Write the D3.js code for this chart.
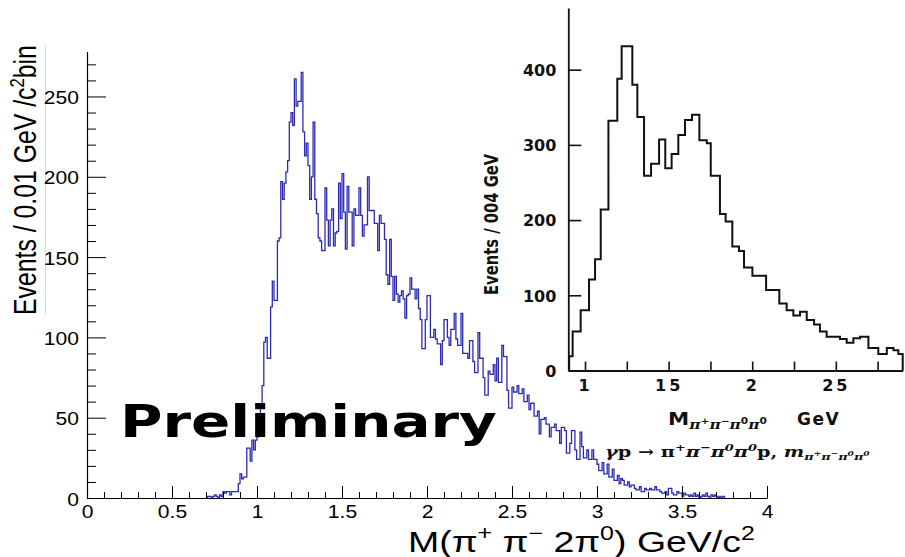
<!DOCTYPE html>
<html>
<head>
<meta charset="utf-8">
<script src="https://cdn.jsdelivr.net/npm/d3@7"></script>
<style>
  body { margin: 0; background: #fff; }
  svg { display: block; background: #fff; }
</style>
</head>
<body>
<svg id="chart" width="905" height="557"></svg>
<script>
// ---- main spectrum: M(pi+ pi- 2pi0), 0.01 GeV bins starting at 0.70 GeV ----
const mainStart = 0.70;
const mainBinWidth = 0.01;
const mainCounts = [
  0, 1, 1, 0, 1, 2, 1, 0, 2, 1,            // 0.70
  4, 3, 4, 4, 2, 4, 4, 4, 4, 9,            // 0.80
  15, 12, 13, 13, 31, 31, 23, 36, 30, 36,  // 0.90
  38, 47, 57, 70, 97, 100, 87, 87, 119, 135,        // 1.00
  123, 123, 160, 162, 197, 186, 196, 203, 210, 234, // 1.10
  240, 232, 261, 244, 247, 247, 265, 228, 213, 221, // 1.20
  207, 186, 200, 234, 186, 177, 162, 160, 154, 154, // 1.30
  193, 173, 157, 173, 180, 157, 165, 166, 196, 174, // 1.40
  202, 178, 155, 194, 178, 178, 157, 180, 176, 176, // 1.50
  193, 176, 163, 170, 170, 200, 179, 179, 179, 171, // 1.60
  171, 154, 176, 171, 171, 161, 139, 133, 161, 138, // 1.70
  123, 138, 127, 122, 126, 129, 124, 112, 126, 127, // 1.80
  137, 130, 130, 124, 130, 118, 111, 93, 93, 111,   // 1.90
  126, 126, 100, 100, 105, 99, 96, 96, 83, 98,      // 2.00
  111, 111, 100, 95, 105, 105, 115, 99, 95, 95,     // 2.10
  115, 90, 90, 90, 87, 98, 98, 85, 78, 78,          // 2.20
  103, 87, 87, 75, 64, 64, 79, 77, 77, 83,          // 2.30
  73, 87, 72, 72, 95, 88, 88, 67, 56, 56,           // 2.40
  69, 66, 66, 70, 65, 65, 68, 60, 60, 64,           // 2.50
  55, 59, 59, 51, 51, 54, 40, 49, 49, 50,           // 2.60
  46, 46, 38, 44, 44, 46, 42, 42, 34, 44,           // 2.70
  44, 42, 28, 28, 34, 42, 42, 30, 24, 24,           // 2.80
  41, 32, 25, 25, 30, 24, 24, 30, 24, 24,           // 2.90
  21, 17, 17, 22, 15, 15, 21, 13, 13, 18,           // 3.00
  11, 11, 14, 9, 12, 11, 8, 8, 10, 7,               // 3.10
  8, 8, 6, 5, 5, 7, 4, 4, 6, 5,                     // 3.20
  5, 6, 5, 5, 7, 5, 5, 4, 3, 3,                     // 3.30
  4, 2, 6, 6, 3, 2, 2, 4, 3, 3,                     // 3.40
  1, 3, 2, 2, 1, 2, 1, 3, 1, 2,                     // 3.50
  0, 1, 2, 1, 3, 1, 0, 2, 1, 2,                     // 3.60
  1, 0, 1, 0, 1                                     // 3.70
];
const mainXTicks = [0, 0.5, 1, 1.5, 2, 2.5, 3, 3.5, 4];
const mainXTickLabels = ["0", "0.5", "1", "1.5", "2", "2.5", "3", "3.5", "4"];
const mainYTicks = [0, 50, 100, 150, 200, 250];

// ---- older measurement, gamma p -> pi+ pi- pi0 pi0 p (hand-binned edges) ----
const insetEdges = [
  0.905, 0.926, 0.974, 1.024, 1.06, 1.094, 1.14, 1.193, 1.219, 1.283,
  1.313, 1.353, 1.395, 1.443, 1.48, 1.518, 1.558, 1.598, 1.64, 1.684,
  1.728, 1.752, 1.807, 1.841, 1.881, 1.921, 1.951, 2.001, 2.083, 2.162,
  2.206, 2.246, 2.286, 2.326, 2.37, 2.405, 2.445, 2.525, 2.565, 2.605,
  2.645, 2.695, 2.754, 2.805, 2.845, 2.874, 2.90
];
const insetCounts = [
  19, 52, 80, 121, 148, 214, 332, 388, 431, 380,
  337, 259, 275, 307, 269, 288, 313, 333, 340, 306,
  302, 259, 208, 198, 165, 159, 137, 126, 107, 89,
  80, 73, 78, 67, 61, 52, 45, 42, 37, 43,
  45, 30, 22, 30, 27, 22
];
const insetXTicks = [1, 1.5, 2, 2.5];
const insetXTickLabels = ["1", "15", "2", "25"];
const insetXMinorTicks = [1.25, 1.75, 2.25, 2.75];
const insetYTicks = [0, 100, 200, 300, 400];

const svg = d3.select("#chart");

// stretch/squeeze a text element horizontally (in its own frame) to a given length
function fitLength(sel, length) {
  sel.each(function () {
    const w = this.getBBox().width;
    if (w > 0) {
      const base = this.getAttribute("data-base") || "";
      this.setAttribute("transform", base + ` scale(${length / w},1)`);
    }
  });
}

// append runs of [text, shift, attrs]; shift raises (negative) or lowers (positive) the run
function appendRuns(textSel, runs, smallSize) {
  let current = 0;
  runs.forEach(([str, shift, attrs]) => {
    const t = textSel.append("tspan").attr("dy", shift - current).text(str);
    if (shift !== 0) t.attr("font-size", smallSize);
    if (attrs) Object.entries(attrs).forEach(([k, v]) => t.attr(k, v));
    current = shift;
  });
}

// ================= main histogram =================
const x = d3.scaleLinear().domain([0, 4]).range([87, 767]);
const y = d3.scaleLinear().domain([0, 278]).range([498, 51.5]);

const mainPts = [];
mainCounts.forEach((v, i) => {
  const x0 = mainStart + i * mainBinWidth;
  const x1 = mainStart + (i + 1) * mainBinWidth;
  if (i === 0) mainPts.push([x0, 0]);
  mainPts.push([x0, v], [x1, v]);
  if (i === mainCounts.length - 1) mainPts.push([x1, 0]);
});
const mainLine = d3.line().x(d => x(d[0])).y(d => y(d[1]));

// faint frame edge left of the title
svg.append("line")
  .attr("x1", 45.5).attr("x2", 45.5).attr("y1", 45).attr("y2", 315)
  .attr("stroke", "#d8d8d8").attr("stroke-width", 1);

svg.append("path")
  .attr("d", mainLine(mainPts))
  .attr("fill", "none")
  .attr("stroke", "#2b2bb2")
  .attr("stroke-width", 1.3);

// x axis (ticks point inwards)
const xAxisG = svg.append("g").attr("transform", "translate(0,498)");
xAxisG.append("g")
  .call(d3.axisBottom(x).tickValues(d3.range(0, 41).map(i => i / 10).filter(v => !mainXTicks.includes(v)))
    .tickSizeInner(-6).tickSizeOuter(0).tickFormat(""))
  .call(g => g.select(".domain").remove());
xAxisG.append("g")
  .call(d3.axisBottom(x).tickValues(mainXTicks).tickFormat((d, i) => mainXTickLabels[i])
    .tickSizeInner(-12).tickSizeOuter(0).tickPadding(7));

// y axis
const yAxisG = svg.append("g").attr("transform", "translate(87,0)");
yAxisG.append("g")
  .call(d3.axisLeft(y).tickValues(d3.range(0, 280, 10).filter(v => !mainYTicks.includes(v)))
    .tickSizeInner(-9).tickSizeOuter(0).tickFormat(""))
  .call(g => g.select(".domain").remove());
yAxisG.append("g")
  .call(d3.axisLeft(y).tickValues(mainYTicks).tickSizeInner(-19).tickSizeOuter(0).tickPadding(8));

svg.selectAll(".tick line").attr("stroke", "#000");
[xAxisG, yAxisG].forEach(g => {
  g.selectAll(".domain").attr("stroke", "#000").attr("stroke-width", 1.2);
  g.selectAll("text")
    .attr("font-family", "Liberation Sans, Arial, sans-serif")
    .attr("font-size", 18)
    .attr("fill", "#000")
    .each(function () {
      const w = this.getComputedTextLength();
      d3.select(this).attr("textLength", w * 1.17).attr("lengthAdjust", "spacingAndGlyphs");
    });
});
yAxisG.selectAll("text").attr("dy", "0.4em");

// axis titles
const yTitle = svg.append("text")
  .attr("data-base", "translate(36,315) rotate(-90)")
  .attr("font-family", "Liberation Sans, Arial, sans-serif")
  .attr("font-size", 31)
  .attr("fill", "#000");
appendRuns(yTitle, [["Events / 0.01 GeV /c", 0], ["2", -12], ["bin", 0]], 21);
fitLength(yTitle, 270);

const xTitle = svg.append("text")
  .attr("data-base", "translate(408,552)")
  .attr("font-family", "Liberation Sans, Arial, sans-serif")
  .attr("font-size", 30)
  .attr("fill", "#000");
appendRuns(xTitle, [
  ["M(π", 0], ["+", -12], [" π", 0], ["−", -12], [" 2π", 0], ["0", -12], [") GeV/c", 0], ["2", -12]
], 20);
fitLength(xTitle, 347);

// stamp
const stamp = svg.append("text")
  .attr("data-base", "translate(120,437)")
  .attr("font-family", "DejaVu Sans, sans-serif")
  .attr("font-weight", "bold")
  .attr("font-size", 45)
  .attr("fill", "#000")
  .text("Preliminary");
fitLength(stamp, 377);

// ================= inset: earlier measurement =================
const xi = d3.scaleLinear().domain([0.9, 2.9]).range([568.3, 902.7]);
const yi = d3.scaleLinear().domain([0, 482]).range([370.5, 8]);

const insetPts = [[insetEdges[0], 0]];
insetCounts.forEach((v, i) => {
  insetPts.push([insetEdges[i], v], [insetEdges[i + 1], v]);
});
insetPts.push([insetEdges[insetEdges.length - 1], 0]);
const insetLine = d3.line().x(d => xi(d[0])).y(d => yi(d[1]));

svg.append("path")
  .attr("d", insetLine(insetPts))
  .attr("fill", "none")
  .attr("stroke", "#111")
  .attr("stroke-width", 2)
  .attr("stroke-linejoin", "miter");

const ixG = svg.append("g").attr("transform", "translate(0,370.5)");
ixG.append("g")
  .call(d3.axisBottom(xi).tickValues(insetXMinorTicks).tickSizeInner(-9).tickSizeOuter(0).tickFormat(""))
  .call(g => g.select(".domain").remove());
ixG.append("g")
  .call(d3.axisBottom(xi).tickValues(insetXTicks).tickFormat((d, i) => insetXTickLabels[i])
    .tickSizeInner(-9).tickSizeOuter(0).tickPadding(8));

const iyG = svg.append("g").attr("transform", "translate(568.3,0)");
iyG.call(d3.axisLeft(yi).tickValues(insetYTicks).tickSizeInner(-13).tickSizeOuter(0).tickPadding(12));

[ixG, iyG].forEach(g => {
  g.selectAll(".domain").attr("stroke", "#111").attr("stroke-width", 1.8);
  g.selectAll(".tick line").attr("stroke", "#111").attr("stroke-width", 1.6);
  g.selectAll("text")
    .attr("font-family", "DejaVu Sans, sans-serif")
    .attr("font-weight", "bold")
    .attr("font-size", 16)
    .attr("fill", "#111");
});
ixG.selectAll("text").attr("letter-spacing", 3).attr("dy", "0.75em");
iyG.selectAll("text").attr("dy", "0.36em");

const iyTitle = svg.append("text")
  .attr("data-base", "translate(498,295) rotate(-90)")
  .attr("font-family", "DejaVu Sans Condensed, DejaVu Sans, sans-serif")
  .attr("font-weight", "bold")
  .attr("font-size", 19)
  .attr("fill", "#111")
  .text("Events / 004 GeV");
fitLength(iyTitle, 142);

// inset mass label: M with a subscripted final state, then the unit
const ixTitle = svg.append("text")
  .attr("data-base", "translate(668,425)")
  .attr("font-family", "DejaVu Sans, sans-serif")
  .attr("font-weight", "bold")
  .attr("font-size", 18)
  .attr("fill", "#111");
const piSub = { "font-family": "DejaVu Serif, serif", "font-style": "italic", "font-size": 13 };
const piSup = { "font-size": 9 };
appendRuns(ixTitle, [
  ["M", 0], ["π", 4, piSub], ["+", -1, piSup], ["π", 4, piSub], ["−", -1, piSup],
  ["π", 4, piSub], ["0", -1, piSup], ["π", 4, piSub], ["0", -1, piSup]
], 12);
fitLength(ixTitle, 99);
svg.append("text")
  .attr("x", 797).attr("y", 425)
  .attr("font-family", "DejaVu Sans, sans-serif")
  .attr("font-weight", "bold")
  .attr("font-size", 17)
  .attr("fill", "#111")
  .attr("letter-spacing", 1.5)
  .text("GeV");

// reaction line
const reaction = svg.append("text")
  .attr("data-base", "translate(605,457)")
  .attr("font-family", "DejaVu Serif, serif")
  .attr("font-style", "italic")
  .attr("font-weight", "bold")
  .attr("font-size", 15)
  .attr("fill", "#111");
const up = { "font-style": "normal" };
const subPi = { "font-size": 10 };
const subSup = { "font-size": 7 };
appendRuns(reaction, [
  ["γ", 0], ["p → π", 0, up], ["+", -6], ["π", 0], ["−", -6], ["π", 0], ["0", -6], ["π", 0], ["0", -6],
  ["p, ", 0, up], ["m", 0],
  ["π", 3, subPi], ["+", -1, subSup], ["π", 3, subPi], ["−", -1, subSup],
  ["π", 3, subPi], ["0", -1, subSup], ["π", 3, subPi], ["0", -1, subSup]
], 10);
fitLength(reaction, 265);
</script>
</body>
</html>
